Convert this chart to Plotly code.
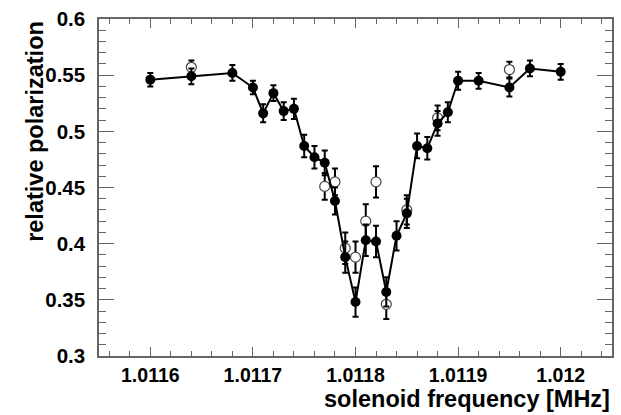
import plotly.graph_objects as go

# Solenoid frequency scan: filled points (connected) and open points
freq_filled = [1.0116, 1.01164, 1.01168, 1.0117, 1.01171, 1.01172, 1.01173, 1.01174,
               1.01175, 1.01176, 1.01177, 1.01178, 1.01179, 1.0118, 1.01181, 1.01182,
               1.01183, 1.01184, 1.01185, 1.01186, 1.01187, 1.01188, 1.01189, 1.0119,
               1.01192, 1.01195, 1.01197, 1.012]
pol_filled = [0.546, 0.549, 0.552, 0.539, 0.516, 0.534, 0.518, 0.520,
              0.487, 0.477, 0.472, 0.438, 0.388, 0.348, 0.403, 0.402,
              0.357, 0.407, 0.427, 0.487, 0.485, 0.507, 0.517, 0.545,
              0.545, 0.539, 0.556, 0.553]
err_filled = [0.006, 0.007, 0.007, 0.006, 0.008, 0.007, 0.008, 0.009,
              0.010, 0.010, 0.011, 0.012, 0.014, 0.013, 0.014, 0.014,
              0.013, 0.013, 0.013, 0.011, 0.010, 0.011, 0.009, 0.008,
              0.007, 0.008, 0.007, 0.007]

freq_open = [1.01164, 1.01177, 1.01178, 1.01179, 1.0118, 1.01181, 1.01182,
             1.01183, 1.01185, 1.01188, 1.01195]
pol_open = [0.557, 0.451, 0.455, 0.396, 0.388, 0.420, 0.455,
            0.346, 0.430, 0.512, 0.555]
err_open = [0.006, 0.012, 0.012, 0.014, 0.014, 0.015, 0.014,
            0.013, 0.013, 0.011, 0.007]

x_tickvals = [1.0116, 1.0117, 1.0118, 1.0119, 1.012]
x_ticktext = ["1.0116", "1.0117", "1.0118", "1.0119", "1.012"]
y_tickvals = [0.3, 0.35, 0.4, 0.45, 0.5, 0.55, 0.6]
y_ticktext = ["0.3", "0.35", "0.4", "0.45", "0.5", "0.55", "0.6"]

FONT = "Liberation Sans, Arial, sans-serif"
FRAME = "#666666"

fig = go.Figure()

fig.add_trace(go.Scatter(
    x=freq_open, y=pol_open, mode="markers",
    marker=dict(symbol="circle", size=10, color="white",
                line=dict(color="#444444", width=1.2)),
    error_y=dict(type="data", array=err_open, color="black", thickness=2, width=3),
    showlegend=False,
))

fig.add_trace(go.Scatter(
    x=freq_filled, y=pol_filled, mode="lines+markers",
    line=dict(color="black", width=2),
    marker=dict(symbol="circle", size=10, color="black"),
    error_y=dict(type="data", array=err_filled, color="black", thickness=2, width=3),
    showlegend=False,
))

fig.update_xaxes(
    range=[1.01155, 1.01205],
    tickvals=x_tickvals, ticktext=x_ticktext,
    ticks="inside", ticklen=9, tickwidth=1, tickcolor=FRAME,
    minor=dict(dtick=0.00002, ticks="inside", ticklen=5, tickwidth=1, tickcolor=FRAME,
               showgrid=False),
    showline=True, linecolor=FRAME, linewidth=1.5, mirror="ticks",
    showgrid=False, zeroline=False,
    tickfont=dict(family=FONT, size=19.5, color="black", weight="bold"),
    ticklabelstandoff=1,
)
fig.update_yaxes(
    range=[0.3, 0.6],
    tickvals=y_tickvals, ticktext=y_ticktext,
    ticks="inside", ticklen=15, tickwidth=1, tickcolor=FRAME,
    minor=dict(dtick=0.01, ticks="inside", ticklen=7, tickwidth=1, tickcolor=FRAME,
               showgrid=False),
    showline=True, linecolor=FRAME, linewidth=1.5, mirror="ticks",
    showgrid=False, zeroline=False,
    tickfont=dict(family=FONT, size=20.5, color="black", weight="bold"),
    ticklabelstandoff=8,
)

fig.add_annotation(
    text="solenoid frequency [MHz]", xref="paper", yref="paper",
    x=1, y=-0.1735, xanchor="right", yanchor="bottom", showarrow=False,
    font=dict(family=FONT, size=23.5, color="black", weight="bold"),
)
fig.add_annotation(
    text="relative polarization", xref="paper", yref="paper",
    x=-0.126, y=1, xanchor="center", yanchor="top", textangle=-90, showarrow=False,
    font=dict(family=FONT, size=23.5, color="black", weight="bold"),
)

fig.update_layout(
    width=621, height=415,
    margin=dict(l=99, r=7, t=16, b=59),
    paper_bgcolor="white", plot_bgcolor="white",
)

fig.write_html("out.html")
